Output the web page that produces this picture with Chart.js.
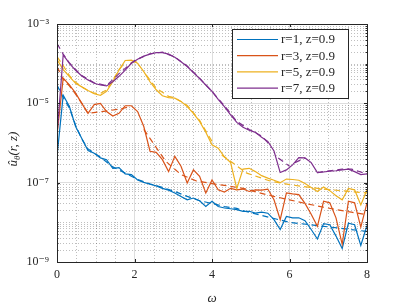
<!DOCTYPE html>
<html>
<head>
<meta charset="utf-8">
<script src="https://cdn.jsdelivr.net/npm/chart.js@4.4.1/dist/chart.umd.min.js"></script>
<style>
  html, body { margin: 0; padding: 0; background: #fff; }
  #wrap { width: 407px; height: 306px; }
</style>
</head>
<body>
<div id="wrap"><canvas id="chart"></canvas></div>
<script>
// frequency grid
const omega = [0, 0.16, 0.32, 0.48, 0.64, 0.8, 0.96, 1.12, 1.28, 1.44, 1.6, 1.76, 1.92, 2.08, 2.24, 2.4, 2.56, 2.72, 2.88, 3.04,
  3.2, 3.36, 3.52, 3.68, 3.84, 4, 4.16, 4.32, 4.48, 4.64, 4.8, 4.96, 5.12, 5.28, 5.44, 5.6, 5.76, 5.92, 6.08, 6.24,
  6.4, 6.56, 6.72, 6.88, 7.04, 7.2, 7.36, 7.52, 7.68, 7.84, 8];

const seriesLabels = ['r=1, z=0.9', 'r=3, z=0.9', 'r=5, z=0.9', 'r=7, z=0.9'];
const seriesColors = ['#0072BD', '#D95319', '#EDB120', '#7E2F8E'];

// measured spectra (solid lines)
const u_r1 = [4.6e-7, 1.6e-5, 8.3e-6, 2.6e-6, 1.3e-6, 6.5e-7, 5.5e-7, 4.2e-7, 3.8e-7, 2.3e-7, 2.4e-7, 1.66e-7, 1.6e-7, 1.17e-7, 1.02e-7, 9.1e-8, 8.3e-8, 7.2e-8, 6.5e-8, 5.5e-8,
  4.5e-8, 3.7e-8, 4.1e-8, 3.5e-8, 2.5e-8, 3.4e-8, 2.5e-8, 2.3e-8, 2.2e-8, 2.1e-8, 1.9e-8, 1.9e-8, 1.7e-8, 1.8e-8, 1.7e-8, 1.17e-8, 6.6e-9, 1.4e-8, 1.3e-8, 1.3e-8,
  1.1e-8, 6.6e-9, 3.8e-9, 9.3e-9, 8.7e-9, 4.5e-9, 2.2e-9, 9.5e-9, 8.7e-9, 2.6e-9, 8.3e-9];
const u_r3 = [1.6e-6, 4.3e-5, 2.9e-5, 1.8e-5, 1.0e-5, 5.6e-6, 9.3e-6, 1.0e-5, 6.2e-6, 4.8e-6, 5.6e-6, 8.7e-6, 8.7e-6, 6.2e-6, 2.6e-6, 6.2e-7, 5.8e-7, 3.8e-7, 1.9e-7, 4.6e-7,
  2.6e-7, 9.8e-8, 2.1e-7, 1.45e-7, 5.5e-8, 1.17e-7, 6.6e-8, 5.8e-8, 7.2e-8, 6.6e-8, 6.9e-8, 6.0e-8, 6.6e-8, 6.5e-8, 6.9e-8, 3.7e-8, 1.17e-8, 5.5e-8, 5.2e-8, 5.0e-8,
  3.0e-8, 1.6e-8, 7.9e-9, 3.4e-8, 3.1e-8, 1.3e-8, 2.8e-9, 3.4e-8, 3.1e-8, 7.6e-9, 3.1e-8];
const u_r5 = [1.26e-4, 7.1e-5, 4.7e-5, 3.2e-5, 2.6e-5, 2.1e-5, 1.74e-5, 1.6e-5, 2.0e-5, 3.5e-5, 6.9e-5, 1.2e-4, 1.23e-4, 1.02e-4, 6.3e-5, 3.5e-5, 2.2e-5, 1.55e-5, 1.4e-5, 1.35e-5,
  1.12e-5, 8.3e-6, 5.6e-6, 3.5e-6, 1.86e-6, 9.0e-7, 7.4e-7, 4.5e-7, 3.2e-7, 7.1e-8, 2.2e-7, 2.3e-7, 1.9e-7, 1.5e-7, 1.3e-7, 1.15e-7, 1.0e-7, 1.23e-7, 1.2e-7, 1.15e-7,
  9.5e-8, 7.6e-8, 6.0e-8, 7.8e-8, 6.3e-8, 4.7e-8, 3.7e-8, 7.2e-8, 6.6e-8, 2.75e-8, 6.6e-8];
const u_r7 = [1.6e-6, 1.66e-4, 1.02e-4, 6.8e-5, 4.9e-5, 3.9e-5, 3.2e-5, 2.9e-5, 2.75e-5, 3.5e-5, 4.8e-5, 6.9e-5, 1.02e-4, 1.29e-4, 1.55e-4, 1.74e-4, 1.9e-4, 1.9e-4, 1.74e-4, 1.45e-4,
  1.12e-4, 8.5e-5, 6.0e-5, 4.2e-5, 2.9e-5, 2.0e-5, 1.26e-5, 8.3e-6, 5.1e-6, 3.3e-6, 2.5e-6, 2.1e-6, 1.86e-6, 1.4e-6, 1.1e-6, 6.3e-7, 1.8e-7, 2.1e-7, 2.8e-7, 4.3e-7,
  4.2e-7, 3.2e-7, 1.8e-7, 1.86e-7, 1.95e-7, 2.0e-7, 2.1e-7, 2.2e-7, 1.9e-7, 1.6e-7, 1.66e-7];

// fitted curves (dashed lines), null = break
const fit_r1_w = [0, 0.16, 0.32, 0.48, 0.64, 0.8, 1.12, 1.44, 1.76, 2.08, 2.4, 2.72, 3.04, 3.36, 3.68, 4, 4.32, 4.64, 4.85, 6, 8];
const fit_r1 = [2.9e-5, 1.4e-5, 7.6e-6, 2.8e-6, 1.26e-6, 7.1e-7, 4.4e-7, 2.5e-7, 1.74e-7, 1.2e-7, 9.3e-8, 7.6e-8, 6.0e-8, 4.5e-8, 3.5e-8, 3.0e-8, 2.5e-8, 2.24e-8, 1.9e-8, 1.0e-8, 5.9e-9];
const fit_r3_w = [0, 0.16, 0.32, 0.48, 0.64, 0.8, 1.2, 1.6, 1.9, 2.0, 2.24, 2.48, 2.8, 3.2, 3.6, 4, 4.4, 4.8, 5.2, 5.6, 6, 6.4, 6.8, 7.2, 7.6, 8];
const fit_r3 = [8.5e-5, 4.0e-5, 2.75e-5, 1.7e-5, 1.0e-5, 5.6e-6, 6.3e-6, 7.1e-6, 8.3e-6, null, 2.2e-6, 1.0e-6, 3.5e-7, 1.6e-7, 1.1e-7, 9.5e-8, 8.3e-8, 7.2e-8, 5.6e-8, 4.5e-8, 3.7e-8, 3.0e-8, 2.5e-8, 2.1e-8, 1.8e-8, 1.55e-8];
const fit_r5_w = [0, 0.16, 0.32, 0.48, 0.64, 0.8, 0.96, 1.12, 1.28, 1.44, 1.6, 1.76, 1.84, 1.9, 2.1, 2.2, 2.3, 2.56, 2.88, 3.04, 3.36, 3.68, 4, 4.1, 4.25, 4.9, 5.5, 6, 6.87, 8];
const fit_r5 = [1.5e-4, 8.9e-5, 5.0e-5, 3.4e-5, 2.6e-5, 2.1e-5, 1.8e-5, 1.78e-5, 2.2e-5, 3.8e-5, 7.1e-5, 1.07e-4, null, 1.07e-4, 1.17e-4, null, 5.2e-5, 2.4e-5, 1.5e-5, 1.38e-5, 8.9e-6, 3.7e-6, 1.1e-6, null, 5.0e-7, 1.74e-7, 1.1e-7, 8.9e-8, 6.9e-8, 5.5e-8];
const fit_r7_w = [0, 0.16, 0.32, 0.48, 0.64, 0.96, 1.28, 1.6, 2, 2.4, 2.72, 3.04, 3.36, 3.68, 4, 4.32, 4.64, 4.96, 5.28, 5.5, 5.6, 5.71, 6, 6.07, 6.14, 6.4, 6.55, 6.72, 7.04, 7.36, 7.6, 8];
const fit_r7 = [3.2e-4, 1.74e-4, 1.05e-4, 7.1e-5, 5.0e-5, 3.3e-5, 2.8e-5, 5.6e-5, 1.2e-4, 1.78e-4, 1.95e-4, 1.48e-4, 8.7e-5, 4.3e-5, 2.0e-5, 8.7e-6, 3.5e-6, 2.2e-6, 1.5e-6, 8.9e-7, null, 4.2e-7, 2.6e-7, null, 3.2e-7, 4.2e-7, null, 1.8e-7, 2.0e-7, 2.2e-7, 2.2e-7, 1.66e-7];

const xTicks = [0, 2, 4, 6, 8];
const yTicks = [1e-9, 1e-7, 1e-5, 1e-3];
const yTickLabels = ['10⁻⁹', '10⁻⁷', '10⁻⁵', '10⁻³'];

const solid = [u_r1, u_r3, u_r5, u_r7];
const fits = [[fit_r1_w, fit_r1], [fit_r3_w, fit_r3], [fit_r5_w, fit_r5], [fit_r7_w, fit_r7]];

const datasets = [];
solid.forEach((vals, i) => {
  datasets.push({
    label: seriesLabels[i],
    data: omega.map((w, k) => ({ x: w, y: vals[k] })),
    borderColor: seriesColors[i], borderWidth: 1.2, pointRadius: 0, fill: false,
    order: 20 - 2 * i
  });
  datasets.push({
    label: seriesLabels[i] + ' fit',
    isFit: true,
    data: fits[i][0].map((w, k) => ({ x: w, y: fits[i][1][k] })),
    borderColor: seriesColors[i], borderWidth: 1.2, borderDash: [6, 4], pointRadius: 0, fill: false,
    order: 19 - 2 * i
  });
});

const INK = '#262626';
const SERIF = '"Liberation Serif", "DejaVu Serif", serif';

// minor grid, box, ticks, legend and axis titles
const decor = {
  id: 'decor',
  beforeDatasetsDraw(chart) {
    const { ctx, chartArea: a, scales: { x, y } } = chart;
    ctx.save();
    ctx.strokeStyle = 'rgba(0,0,0,0.25)';
    ctx.lineWidth = 1;
    ctx.setLineDash([1, 2]);
    ctx.beginPath();
    for (let e = -9; e < -3; e++) {
      for (let m = 1; m <= 9; m++) {
        if (m === 1 && (e + 9) % 2 === 0) continue;
        const py = Math.round(y.getPixelForValue(m * Math.pow(10, e))) + 0.5;
        ctx.moveTo(a.left, py); ctx.lineTo(a.right, py);
      }
    }
    for (let v = 0.5; v < 8; v += 0.5) {
      if (Math.abs(v % 2) < 1e-9) continue;
      const px = Math.round(x.getPixelForValue(v)) + 0.5;
      ctx.moveTo(px, a.top); ctx.lineTo(px, a.bottom);
    }
    ctx.stroke();
    ctx.restore();
  },
  afterDatasetsDraw(chart) {
    const { ctx, chartArea: a, scales: { x, y } } = chart;
    ctx.save();
    ctx.strokeStyle = INK;
    ctx.lineWidth = 1;
    // tick marks inside the box
    ctx.beginPath();
    xTicks.forEach(v => {
      const px = Math.round(x.getPixelForValue(v)) + 0.5;
      ctx.moveTo(px, a.bottom); ctx.lineTo(px, a.bottom - 3);
      ctx.moveTo(px, a.top); ctx.lineTo(px, a.top + 3);
    });
    for (let e = -9; e < -3; e++) {
      for (let m = 1; m <= 9; m++) {
        const py = Math.round(y.getPixelForValue(m * Math.pow(10, e))) + 0.5;
        const len = (m === 1 && (e + 9) % 2 === 0) ? 3 : 1.5;
        ctx.moveTo(a.left, py); ctx.lineTo(a.left + len, py);
        ctx.moveTo(a.right, py); ctx.lineTo(a.right - len, py);
      }
    }
    ctx.stroke();
    ctx.strokeRect(Math.round(a.left) + 0.5, Math.round(a.top) + 0.5, Math.round(a.right - a.left), Math.round(a.bottom - a.top));

    // legend
    const lx = 232, ly = 29, lw = 116, lh = 69;
    ctx.fillStyle = '#fff';
    ctx.fillRect(lx, ly, lw, lh);
    ctx.strokeRect(lx + 0.5, ly + 0.5, lw, lh);
    ctx.font = '13px ' + SERIF;
    ctx.textBaseline = 'middle';
    ctx.textAlign = 'left';
    chart.data.datasets.filter(d => !d.isFit).forEach((d, i) => {
      const ry = ly + 10.5 + i * 16.2;
      ctx.strokeStyle = d.borderColor;
      ctx.lineWidth = 1.2;
      ctx.beginPath();
      ctx.moveTo(lx + 5, ry); ctx.lineTo(lx + 46, ry);
      ctx.stroke();
      ctx.fillStyle = INK;
      ctx.fillText(d.label, lx + 49, ry + 0.5);
    });

    // axis titles
    ctx.fillStyle = INK;
    ctx.font = 'italic 13px ' + SERIF;
    ctx.textAlign = 'center';
    ctx.textBaseline = 'alphabetic';
    ctx.fillText('ω', (a.left + a.right) / 2, 302);

    ctx.translate(17, 149);
    ctx.rotate(-Math.PI / 2);
    const big = 'italic 13px ' + SERIF, small = 'italic 9px ' + SERIF;
    ctx.font = big; const w1 = ctx.measureText('û').width; const w3 = ctx.measureText('(r, z)').width;
    ctx.font = small; const w2 = ctx.measureText('θ').width;
    let cx = -(w1 + w2 + w3) / 2;
    ctx.textAlign = 'left';
    ctx.font = big; ctx.fillText('û', cx, 0); cx += w1;
    ctx.font = small; ctx.fillText('θ', cx, 3); cx += w2;
    ctx.font = big; ctx.fillText('(r, z)', cx, 0);
    ctx.restore();
  }
};

new Chart(document.getElementById('chart'), {
  type: 'line',
  data: { datasets },
  options: {
    responsive: true,
    maintainAspectRatio: false,
    animation: false,
    devicePixelRatio: 1,
    layout: { padding: { top: 24, right: 40, left: 0, bottom: 0 } },
    plugins: { legend: { display: false }, tooltip: { enabled: false } },
    scales: {
      x: {
        type: 'linear', min: 0, max: 8,
        afterBuildTicks: s => { s.ticks = xTicks.map(v => ({ value: v })); },
        afterFit: s => { s.height = 44; },
        ticks: { color: INK, font: { family: SERIF, size: 12 }, padding: 6, maxRotation: 0, autoSkip: false },
        grid: { color: '#dedede', drawTicks: false },
        border: { display: false }
      },
      y: {
        type: 'logarithmic', min: 1e-9, max: 1e-3,
        afterBuildTicks: s => { s.ticks = yTicks.map(v => ({ value: v })); },
        afterFit: s => { s.width = 57; },
        ticks: { color: INK, font: { family: SERIF, size: 12 }, padding: 8, autoSkip: false,
          callback: (v, i) => yTickLabels[i] },
        grid: { color: '#dedede', drawTicks: false },
        border: { display: false }
      }
    }
  },
  plugins: [decor]
});
</script>
</body>
</html>
